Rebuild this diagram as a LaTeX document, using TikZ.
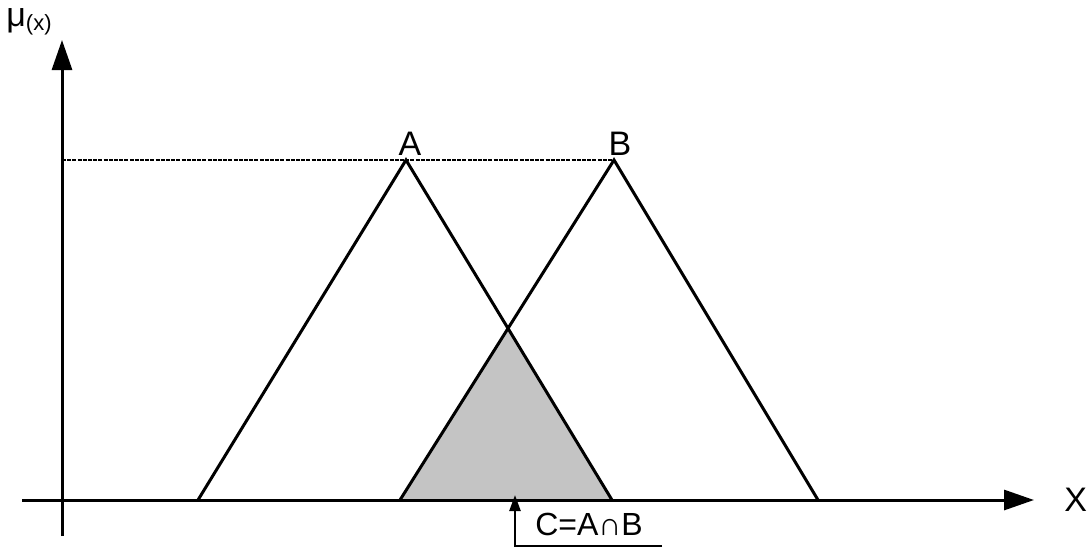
\documentclass[tikz,border=0pt]{standalone}
\usepackage{fontspec}
\setmainfont{Liberation Sans}
\usetikzlibrary{arrows.meta,positioning}
\definecolor{inkblack}{RGB}{0,0,0}
\definecolor{shadegray}{RGB}{196,196,196}
\tikzset{
  % --- axes and membership functions ---------------------------------------
  axisline/.style={draw=inkblack, line width=1.5pt, -{Triangle[length=15pt, width=10pt]}},
  setline/.style={draw=inkblack, line width=1.5pt, line join=miter},
  levelline/.style={draw=inkblack, line width=1pt, dash pattern=on 2pt off 0.6pt},
  cutfill/.style={fill=shadegray},
  setlabel/.style={font=\fontsize{17}{19}\selectfont, inner sep=1pt},
  pointer/.style={draw=inkblack, line width=1.2pt, -{Triangle[length=8pt, width=5.5pt]}},
}
\begin{document}
\begin{tikzpicture}[x=0.5pt, y=-0.5pt]
    \useasboundingbox (0,0) rectangle (1087,553);

    % origin and axis ends
    \coordinate (ybot) at (62,536);
    \coordinate (ytop) at (62,40);
    \coordinate (xleft) at (22,500);
    \coordinate (xright) at (1034,500);

    % triangles A and B
    \coordinate (aleft) at (198,500);
    \coordinate (apeak) at (406,160);
    \coordinate (aright) at (612,500);
    \coordinate (bleft) at (400,500);
    \coordinate (bpeak) at (614,160);
    \coordinate (bright) at (818,500);
    \coordinate (cpeak) at (508,330);
    \coordinate (levelstart) at (62,160);

    % shaded intersection
    \fill[cutfill] (bleft) -- (cpeak) -- (aright) -- cycle;

    \draw[levelline] (levelstart) -- (bpeak);
    \draw[setline] (aleft) -- (apeak) -- (aright);
    \draw[setline] (bleft) -- (bpeak) -- (bright);

    \draw[axisline] (ybot) -- (ytop);
    \draw[axisline] (xleft) -- (xright);

    \node[setlabel, above=1pt of apeak, xshift=2pt] (alabel) {A};
    \node[setlabel, above=1pt of bpeak, xshift=3pt] (blabel) {B};
    \node[setlabel, anchor=west] (xlabel) at (1062,500) {X};
    \node[font=\fontsize{17}{19}\selectfont, anchor=base west, inner sep=0pt] (mulabel) at (6,26)
      {μ\raisebox{-2pt}{\fontsize{11}{13}\selectfont(x)}};

    % pointer to C
    \coordinate (ctail) at (515,546);
    \coordinate (ctip) at (515,495);
    \coordinate (cend) at (662,546);
    \node[font=\fontsize{16}{18}\selectfont, inner sep=0pt] (clabel) at (589,524) {C=A∩B};
    \draw[pointer] (cend) -- (ctail) -- (ctip);
  \end{tikzpicture}
\end{document}
